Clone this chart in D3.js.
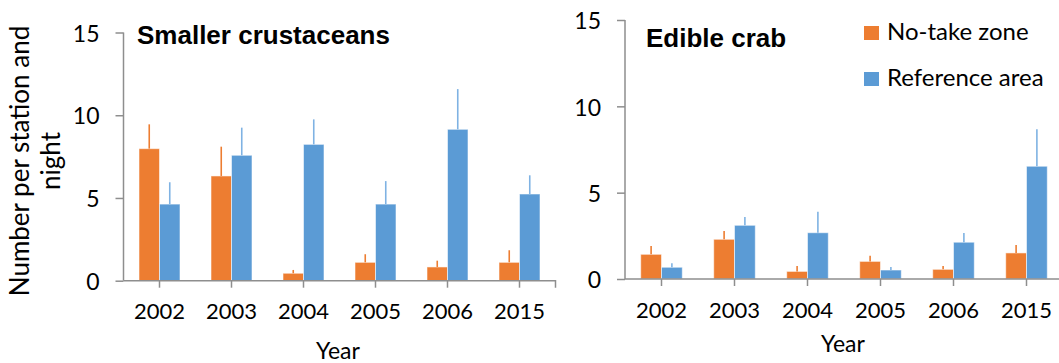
<!DOCTYPE html>
<html>
<head>
<meta charset="utf-8">
<script src="https://cdn.jsdelivr.net/npm/d3@7"></script>
<style>
  html, body { margin: 0; padding: 0; background: #fff; }
  svg { display: block; }
</style>
</head>
<body>
<svg id="chart" width="1059" height="363"></svg>
<script>
// ---- data ----
const years = ["2002", "2003", "2004", "2005", "2006", "2015"];
const seriesNames = ["No-take zone", "Reference area"];
const yTicks = [0, 5, 10, 15];

const crustNoTake    = [7.98, 6.33, 0.45, 1.11, 0.83, 1.11];
const crustNoTakeErr = [1.47, 1.77, 0.20, 0.49, 0.38, 0.73];
const crustRef       = [4.63, 7.58, 8.24, 4.63, 9.15, 5.24];
const crustRefErr    = [1.32, 1.67, 1.51, 1.39, 2.43, 1.13];

const crabNoTake     = [1.43, 2.30, 0.44, 1.02, 0.56, 1.51];
const crabNoTakeErr  = [0.48, 0.48, 0.31, 0.33, 0.19, 0.46];
const crabRef        = [0.68, 3.11, 2.68, 0.52, 2.13, 6.53];
const crabRefErr     = [0.23, 0.48, 1.22, 0.17, 0.53, 2.14];

// ---- styles ----
const colors = ["#ED7D31", "#5B9BD5"];
const errColors = ["#ED7D31", "#7FB2E3"];
const axisColor = "#8E8E8E";
const labelFont = "Lato, 'Open Sans', sans-serif";
const titleFont = "'Liberation Sans', Arial, sans-serif";

const svg = d3.select("#chart");

function panel(cfg) {
  const g = svg.append("g");
  const x = d3.scaleBand().domain(years).range(cfg.xRange).paddingInner(0).paddingOuter(0);
  const xs = d3.scaleBand().domain(seriesNames).range([0, x.bandwidth()]).paddingInner(0).paddingOuter(0.756);
  const y = d3.scaleLinear().domain([0, 15]).range(cfg.yRange);

  const data = [cfg.a, cfg.b];
  const errs = [cfg.aErr, cfg.bErr];

  seriesNames.forEach((s, si) => {
    const rows = years.map((yr, i) => ({ yr, v: data[si][i], e: errs[si][i] }));
    g.append("g").selectAll("rect").data(rows).join("rect")
      .attr("x", d => x(d.yr) + xs(s))
      .attr("y", d => y(d.v))
      .attr("width", xs.bandwidth())
      .attr("height", d => y(0) - y(d.v))
      .attr("fill", colors[si])
      .attr("stroke", "#ffffff")
      .attr("stroke-opacity", 0.55)
      .attr("stroke-width", 1);
    g.append("g").selectAll("line").data(rows).join("line")
      .attr("x1", d => x(d.yr) + xs(s) + xs.bandwidth() / 2)
      .attr("x2", d => x(d.yr) + xs(s) + xs.bandwidth() / 2)
      .attr("y1", d => y(d.v))
      .attr("y2", d => y(d.v + d.e))
      .attr("stroke", errColors[si])
      .attr("stroke-width", 1.6);
  });

  // y axis
  const yAxis = d3.axisLeft(y).tickValues(yTicks).tickSize(8).tickPadding(16).tickFormat(d3.format("d"));
  const ya = g.append("g").attr("transform", `translate(${cfg.xRange[0]},0)`).call(yAxis);
  ya.select(".domain").attr("stroke", axisColor).attr("stroke-width", 1.5).attr("d", `M0,${cfg.yRange[1]}V${cfg.yRange[0]}`);
  ya.selectAll(".tick line").attr("stroke", axisColor).attr("stroke-width", 1.5);
  ya.selectAll(".tick text").attr("font-family", labelFont).attr("font-size", 23).attr("fill", "#000").attr("dy", "0.38em");

  // x axis
  const xAxis = d3.axisBottom(x).tickSize(7).tickPadding(16);
  const xa = g.append("g").attr("transform", `translate(0,${cfg.yRange[0]})`).call(xAxis);
  xa.select(".domain").attr("stroke", axisColor).attr("stroke-width", 1.5)
    .attr("d", `M${cfg.xRange[0]},0H${cfg.xRange[1]}V7`);
  xa.selectAll(".tick line").attr("stroke", axisColor).attr("stroke-width", 1.5);
  xa.selectAll(".tick text").attr("font-family", labelFont).attr("font-size", 22).attr("fill", "#000");

  // axis title
  g.append("text").attr("x", cfg.yearX).attr("y", cfg.yearY).attr("text-anchor", "middle")
    .attr("font-family", labelFont).attr("font-size", 23).attr("fill", "#000").text("Year");

  // panel title
  g.append("text").attr("x", cfg.titleX).attr("y", cfg.titleY)
    .attr("font-family", titleFont).attr("font-weight", "bold").attr("font-size", 26).attr("fill", "#000").text(cfg.title);
}

panel({
  a: crustNoTake, aErr: crustNoTakeErr, b: crustRef, bErr: crustRefErr,
  xRange: [123.5, 555.5], yRange: [280.7, 32.5],
  yearX: 338, yearY: 359, titleX: 137, titleY: 44, title: "Smaller crustaceans"
});
panel({
  a: crabNoTake, aErr: crabNoTakeErr, b: crabRef, bErr: crabRefErr,
  xRange: [625, 1063], yRange: [279, 20],
  yearX: 843, yearY: 352, titleX: 646, titleY: 47, title: "Edible crab"
});

// y axis label (left panel)
const yl = svg.append("text")
  .attr("transform", "translate(29,161) rotate(-90)")
  .attr("text-anchor", "middle")
  .attr("font-family", labelFont).attr("font-size", 26).attr("fill", "#000");
yl.append("tspan").attr("x", 0).attr("dy", 0).text("Number per station and");
yl.append("tspan").attr("x", 0).attr("dy", 31).text("night");

// legend
const leg = svg.append("g").selectAll("g").data(seriesNames).join("g")
  .attr("transform", (d, i) => `translate(864,${26 + i * 46})`);
leg.append("rect").attr("width", 15).attr("height", 14).attr("fill", (d, i) => colors[i]);
leg.append("text").attr("x", 23).attr("y", 14)
  .attr("font-family", labelFont).attr("font-size", 24).attr("fill", "#000").text(d => d);
</script>
</body>
</html>
